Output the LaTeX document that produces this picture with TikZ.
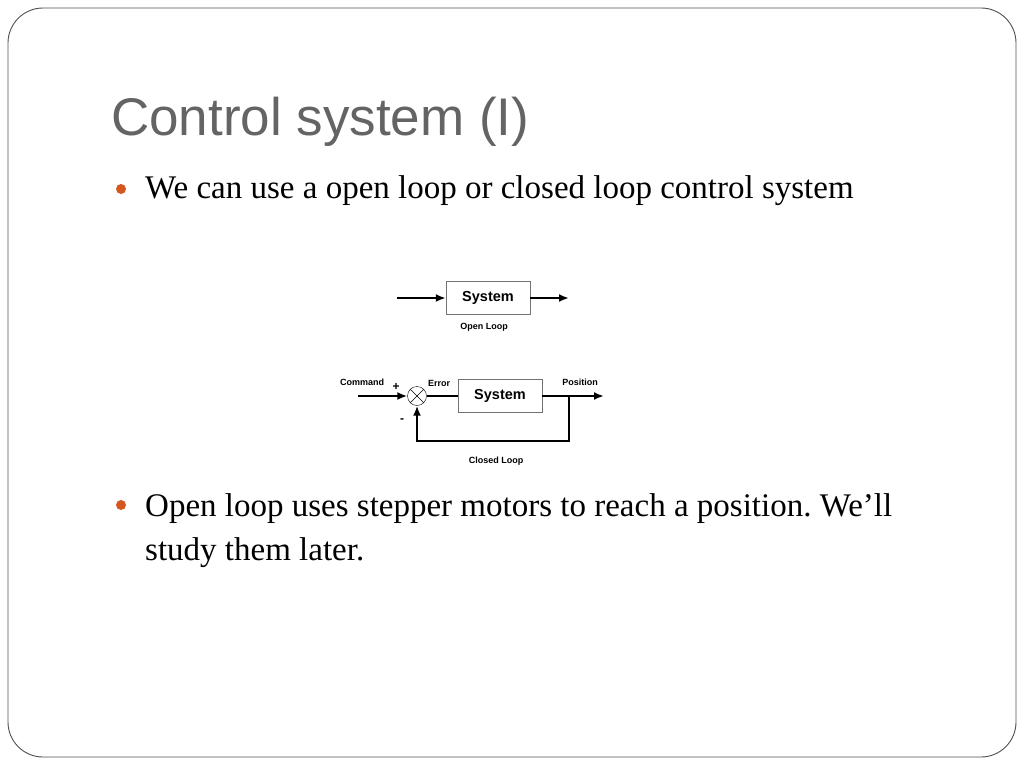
\documentclass[tikz,border=0pt]{standalone}
\usepackage{fontspec}
\setmainfont{Liberation Serif}
\setsansfont{Liberation Sans}
\usepackage{tikz}
\usetikzlibrary{positioning}
\usetikzlibrary{arrows.meta}
\frenchspacing
\definecolor{titelgrau}{RGB}{100,100,100}
\definecolor{punktorange}{RGB}{214,86,32}
\definecolor{rahmengrau}{RGB}{80,80,80}
\tikzset{
  Block/.style={draw=gray!90!black, thin, minimum width=84pt, minimum height=33pt,
    font=\sffamily\bfseries\fontsize{14.5}{16}\selectfont}, % Bloecke
  Pfeil/.style={line width=2pt,->}, % Signalpfeile
  Linie/.style={line width=2pt},
  Beschriftung/.style={font=\sffamily\bfseries\fontsize{9}{10}\selectfont},
  Zeile/.style={anchor=base west, inner sep=0pt, font=\fontsize{33}{44}\selectfont},
  Punkt/.style={circle, fill=punktorange, inner sep=0pt, minimum size=10pt}
}

\begin{document}
\begin{tikzpicture}[x=1pt, y=-1pt,
>={Latex[length=10pt,width=8pt]} % Voreinstellung fuer Pfeilspitzen
]
\useasboundingbox (0,0) rectangle (1024,768);
\draw[rahmengrau, line width=0.9pt, rounded corners=35pt] (8,8) rectangle (1016,757);

%Titel und Text
\node[anchor=base west, inner sep=0pt, text=titelgrau,
  font=\sffamily\fontsize{53}{60}\selectfont] (titel) at (111,135) {Control system (I)};

\node[Punkt] (p1) at (121,189) {};
\node[Zeile] (z1) at (145,198) {We can use a open loop or closed loop control system};

\node[Punkt] (p2) at (121,505) {};
\node[Zeile] (z2) at (145,516) {Open loop uses stepper motors to reach a position. We’ll};
\node[Zeile] (z3) at (145,560) {study them later.};

%Offener Kreis
\node[Block] (sys1) at (488,298) {System};
\coordinate (ein1) at (397,298);
\coordinate (aus1) at (569,298);
\node[Beschriftung] (ol) at (484,327) {Open Loop};

\draw[Pfeil] (ein1) -- (sys1);
\draw[Pfeil] (sys1) -- (aus1);

%Geschlossener Kreis
\node[Block] (sys2) at (500,396) {System};
\node[draw, circle, thin, minimum size=19pt, inner sep=0pt] (summe) at (417,396) {};
\draw[thin] (summe.north east) -- (summe.south west);
\draw[thin] (summe.north west) -- (summe.south east);
\coordinate (ein2) at (358,396);
\coordinate (aus2) at (604,396);
\coordinate (abzw) at (569,396);
\coordinate (unten) at (569,441);

\node[Beschriftung] (cmd) at (362,382) {Command};
\node[Beschriftung] (err) at (439,383) {Error};
\node[Beschriftung] (pos) at (580,382) {Position};
\node[font=\sffamily\bfseries\fontsize{12}{12}\selectfont] (plus) at (396,387) {+};
\node[font=\sffamily\bfseries\fontsize{12}{12}\selectfont] (minus) at (402,421) {-};
\node[Beschriftung] (cl) at (496,461) {Closed Loop};

%Leitungen
\draw[Pfeil] (ein2) -- (summe);
\draw[Linie] (summe) -- (sys2);
\draw[Pfeil] (sys2) -- (aus2);
\draw[Pfeil, line width=2.5pt] (abzw) -- (unten) -| (summe.south);
\end{tikzpicture}
\end{document}
